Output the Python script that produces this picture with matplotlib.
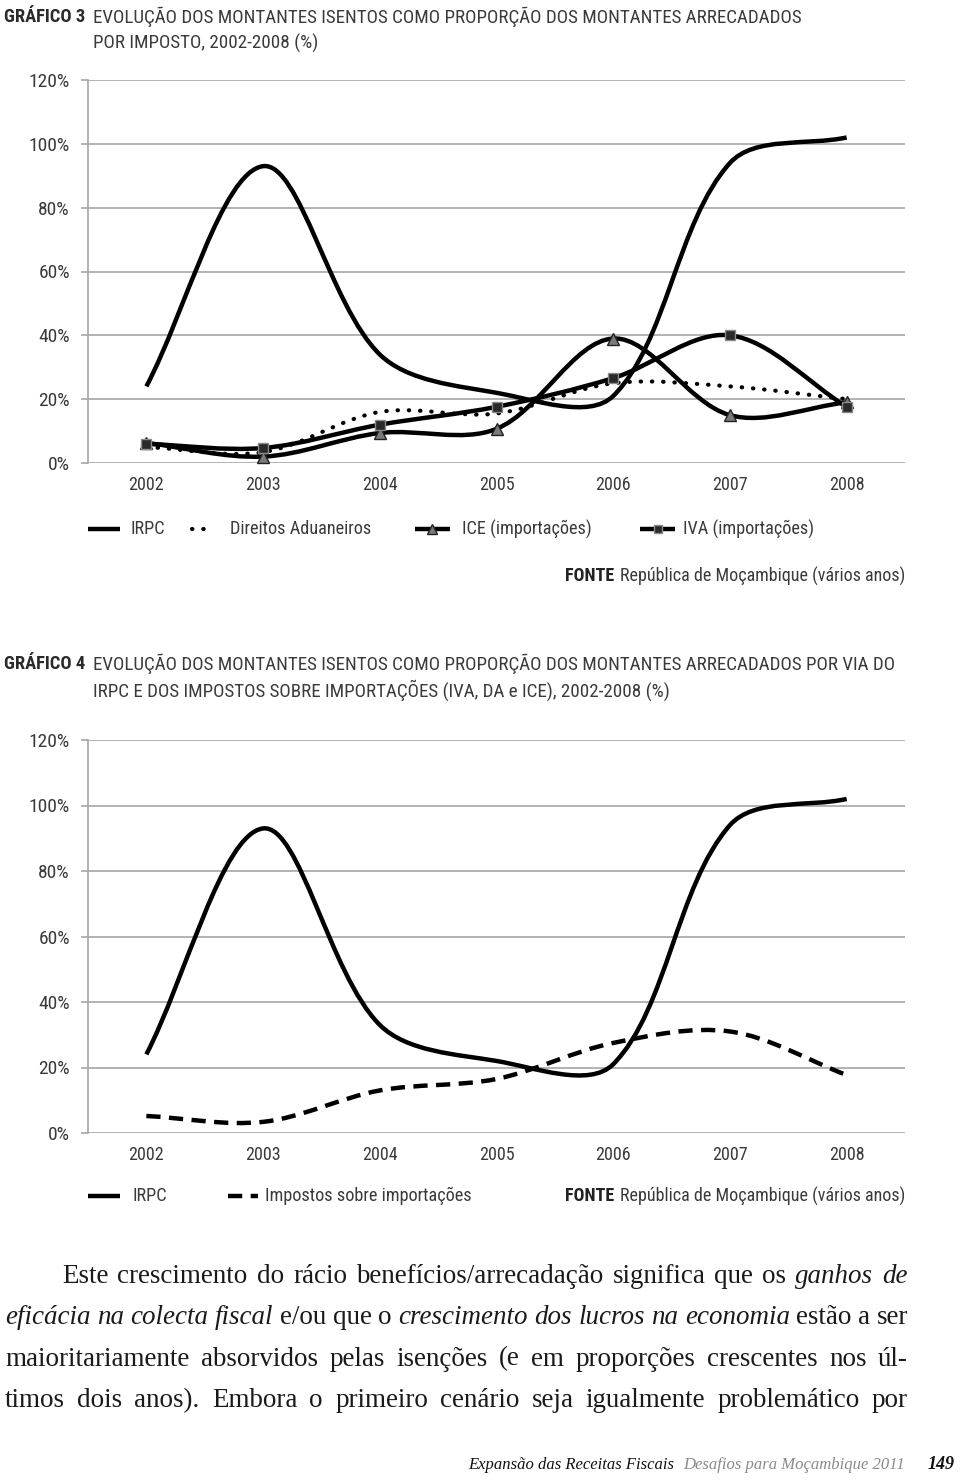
import numpy as np
import matplotlib
matplotlib.use("Agg")
import matplotlib.pyplot as plt
from matplotlib.path import Path
from matplotlib.patches import PathPatch

# dados
anos = ["2002", "2003", "2004", "2005", "2006", "2007", "2008"]
y_ticks = [0, 20, 40, 60, 80, 100, 120]

# Gráfico 3
irpc = [24, 93, 34, 22, 21, 94, 102]
direitos_aduaneiros = [5, 3.4, 16, 15.5, 25, 24, 20]
ice_importacoes = [6.3, 2, 9.4, 10.7, 39, 15, 19]
iva_importacoes = [6, 4.7, 12, 17.6, 26.6, 40, 17.6]

# Gráfico 4
irpc_g4 = [24, 93, 33, 22, 21, 94, 102]
impostos_importacoes = [5.2, 3.4, 13, 16.5, 27.5, 31, 17.7]

COND = ["Roboto Condensed", "Liberation Sans Narrow", "DejaVu Sans"]
SERIF = ["Liberation Serif", "DejaVu Serif"]
plt.rcParams["font.family"] = COND
plt.rcParams["font.stretch"] = "condensed"
GRID = "#a6a6a6"
TXT = "#3a3a3a"


def curva_suave(xs, ys, sx, sy):
    # curva de Bezier tipo Excel ("linha suavizada"), medida em pixéis do ecrã
    xs = np.asarray(xs, float)
    ys = np.asarray(ys, float)
    n = len(xs)
    P = np.column_stack([xs, ys])
    esc = np.array([sx, sy])

    def comp(a, b):
        return np.hypot(*((P[b] - P[a]) * esc))

    antes, depois = [], []
    for i in range(n):
        a = max(i - 1, 0)
        b = min(i + 1, n - 1)
        d = P[b] - P[a]
        la = comp(a, i)
        lb = comp(i, b)
        tot = la + lb
        antes.append(P[i] - d * (la / tot) / 3)
        depois.append(P[i] + d * (lb / tot) / 3)
    verts = [tuple(P[0])]
    codes = [Path.MOVETO]
    for i in range(n - 1):
        verts += [tuple(depois[i]), tuple(antes[i + 1]), tuple(P[i + 1])]
        codes += [Path.CURVE4] * 3
    return Path(verts, codes)


def desenha(ax, ys, sy, **kw):
    xs = np.arange(len(ys))
    p = PathPatch(curva_suave(xs, ys, 116.7, sy), fill=False,
                  transform=ax.transData, edgecolor="black", clip_on=False, **kw)
    ax.add_patch(p)


fig = plt.figure(figsize=(9.6, 14.84), dpi=100)
W, H = 960, 1484

# camada de texto em pixéis
lay = fig.add_axes([0, 0, 1, 1])
lay.set_xlim(0, W)
lay.set_ylim(H, 0)
lay.axis("off")
rend = fig.canvas.get_renderer()


def largura(txt, size=10, **kw):
    t = lay.text(0, 0, txt, fontsize=size, **kw)
    w = t.get_window_extent(rend).width
    t.remove()
    return w


def ajusta(txt, alvo, maximo, **kw):
    # tamanho de letra para que o texto ocupe a largura medida na referência
    return min(maximo, 10 * alvo / largura(txt, 10, **kw))


T3_1 = "EVOLUÇÃO DOS MONTANTES ISENTOS COMO PROPORÇÃO DOS MONTANTES ARRECADADOS"
T4_1 = "EVOLUÇÃO DOS MONTANTES ISENTOS COMO PROPORÇÃO DOS MONTANTES ARRECADADOS POR VIA DO"
s_tit = ajusta(T3_1, 712, 14)
s_num = ajusta("GRÁFICO 3", 81, 14, fontweight="bold")
s_xt = ajusta("2002", 35, 13)
s_yt = ajusta("120%", 45, 14)
s_leg = ajusta("Direitos Aduaneiros", 141, 14)
s_fon = ajusta("República de Moçambique (vários anos)", 285, 14)


def prepara_eixo(ax):
    ax.set_xlim(-0.5, len(anos) - 0.5)
    ax.set_ylim(0, 120)
    ax.set_yticks(y_ticks)
    ax.set_yticklabels([f"{v}%" for v in y_ticks], fontsize=s_yt, color=TXT)
    ax.set_xticks(range(len(anos)))
    ax.set_xticklabels(anos, fontsize=s_xt, color=TXT)
    ax.tick_params(axis="y", length=5, width=1.2, color=GRID, pad=8)
    ax.tick_params(axis="x", length=0, pad=9)
    for s in ["top", "right", "bottom"]:
        ax.spines[s].set_visible(False)
    ax.spines["left"].set_color(GRID)
    ax.spines["left"].set_linewidth(1.2)
    ax.grid(axis="y", color=GRID, linewidth=1.2)
    ax.set_axisbelow(True)
    ax.patch.set_visible(False)


def caixa(l, t, r, b):
    return [l / W, 1 - b / H, (r - l) / W, (b - t) / H]


# ---- Gráfico 3
ax1 = fig.add_axes(caixa(88, 80, 905, 463))
prepara_eixo(ax1)
x = np.arange(len(anos))
sy1 = 383 / 120
desenha(ax1, irpc, sy1, linewidth=3.2, capstyle="butt")
desenha(ax1, direitos_aduaneiros, sy1, linewidth=3, linestyle=(0, (0.1, 2.6)),
        capstyle="round")
desenha(ax1, ice_importacoes, sy1, linewidth=3.2, capstyle="butt")
desenha(ax1, iva_importacoes, sy1, linewidth=3.2, capstyle="butt")
ax1.plot(x, ice_importacoes, linestyle="none", marker="^", markersize=8.5,
         markerfacecolor="#7a7a7a", markeredgecolor="#222222", clip_on=False,
         zorder=5)
ax1.plot(x, iva_importacoes, linestyle="none", marker="s", markersize=7.5,
         markerfacecolor="#2a2a2a", markeredgecolor="#8a8a8a", clip_on=False,
         zorder=5)

# ---- Gráfico 4
ax2 = fig.add_axes(caixa(88, 740, 905, 1133))
prepara_eixo(ax2)
sy2 = 393 / 120
desenha(ax2, irpc_g4, sy2, linewidth=3.2, capstyle="butt")
desenha(ax2, impostos_importacoes, sy2, linewidth=3.2,
        linestyle=(0, (3.2, 1.9)), capstyle="butt")


def titulo(y, numero, l1, l2):
    lay.text(4, y, numero, fontsize=s_num, fontweight="bold", color="#2a2a2a",
             va="center")
    lay.text(93, y, l1, fontsize=s_tit, color=TXT, va="center")
    lay.text(93, y + 26, l2, fontsize=s_tit, color=TXT, va="center")


titulo(17, "GRÁFICO 3", T3_1, "POR IMPOSTO, 2002-2008 (%)")
titulo(664, "GRÁFICO 4", T4_1,
       "IRPC E DOS IMPOSTOS SOBRE IMPORTAÇÕES (IVA, DA e ICE), 2002-2008 (%)")

# legenda gráfico 3
yl = 529
lay.plot([88, 120], [yl, yl], color="black", lw=3.2, solid_capstyle="butt")
lay.text(130, yl, "IRPC", fontsize=s_leg, color=TXT, va="center")
lay.plot([192, 214], [yl, yl], color="black", lw=3, linestyle=(0, (0.1, 2.6)),
         dash_capstyle="round")
lay.text(230, yl, "Direitos Aduaneiros", fontsize=s_leg, color=TXT, va="center")
lay.plot([415, 450], [yl, yl], color="black", lw=3.2, solid_capstyle="butt")
lay.plot([432], [yl], marker="^", markersize=7, markerfacecolor="#7a7a7a",
         markeredgecolor="#222222")
lay.text(462, yl, "ICE (importações)", fontsize=s_leg, color=TXT, va="center")
lay.plot([640, 675], [yl, yl], color="black", lw=3.2, solid_capstyle="butt")
lay.plot([658], [yl], marker="s", markersize=6, markerfacecolor="#2a2a2a",
         markeredgecolor="#8a8a8a")
lay.text(683, yl, "IVA (importações)", fontsize=s_leg, color=TXT, va="center")

# legenda gráfico 4
yl2 = 1196
lay.plot([88, 120], [yl2, yl2], color="black", lw=3.2, solid_capstyle="butt")
lay.text(133, yl2, "IRPC", fontsize=s_leg, color=TXT, va="center")
lay.plot([228, 258], [yl2, yl2], color="black", lw=3.2,
         linestyle=(0, (3.2, 1.9)), solid_capstyle="butt")
lay.text(265, yl2, "Impostos sobre importações", fontsize=s_leg, color=TXT,
         va="center")


def fonte(y):
    t = lay.text(905, y, "República de Moçambique (vários anos)", fontsize=s_fon,
                 color=TXT, va="center", ha="right")
    bb = t.get_window_extent(rend)
    lay.text(bb.x0 - 6, y, "FONTE", fontsize=s_fon, fontweight="bold",
             color="#222222", va="center", ha="right")


fonte(576)
fonte(yl2)

# texto corrido (justificado)
linhas = [
    (62, [("Este crescimento do rácio benefícios/arrecadação significa que os", "normal"),
          ("ganhos de", "italic")]),
    (5, [("eficácia na colecta fiscal", "italic"), ("e/ou que o", "normal"),
         ("crescimento dos lucros na economia", "italic"), ("estão a ser", "normal")]),
    (5, [("maioritariamente absorvidos pelas isenções (e em proporções crescentes nos úl-",
          "normal")]),
    (5, [("timos dois anos). Embora o primeiro cenário seja igualmente problemático por",
          "normal")]),
]
s_corpo = ajusta(linhas[2][1][0][0], 860, 19.5, family=SERIF)
base = 1283
for k, (x0, segs) in enumerate(linhas):
    y = base + k * 41.3
    arts = []
    for txt, st in segs:
        for w in txt.split():
            arts.append(lay.text(0, y, w, fontsize=s_corpo, style=st, family=SERIF,
                                 color="#1a1a1a", va="baseline"))
    larg = [a.get_window_extent(rend).width for a in arts]
    gap = (908 - x0 - sum(larg)) / (len(arts) - 1)
    xp = x0
    for a, w in zip(arts, larg):
        a.set_x(xp)
        xp += w + gap

# rodapé
yf = 1469
s_rod = ajusta("Desafios para Moçambique 2011", 222, 13, style="italic",
               family=SERIF)
g = lay.text(905, yf, "Desafios para Moçambique 2011", fontsize=s_rod,
             style="italic", family=SERIF, color="#8a8a8a", va="baseline",
             ha="right")
gx = g.get_window_extent(rend).x0
lay.text(gx - 9, yf, "Expansão das Receitas Fiscais", fontsize=s_rod,
         style="italic", family=SERIF, color="#111111", va="baseline",
         ha="right")
lay.text(955, yf, "149", fontsize=s_rod + 1, style="italic", fontweight="bold",
         family=SERIF, color="#111111", va="baseline", ha="right")

fig.savefig("out.png", dpi=100)
